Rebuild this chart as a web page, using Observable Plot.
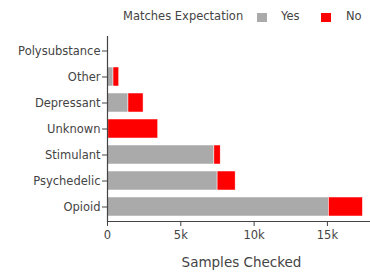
<!DOCTYPE html>
<html>
<head>
<meta charset="utf-8">
<script src="https://cdn.jsdelivr.net/npm/d3@7"></script>
<script src="https://cdn.jsdelivr.net/npm/@observablehq/plot@0.6"></script>
<style>
  body { margin: 0; background: #fff; }
  #wrap { position: relative; width: 370px; height: 272px; font-family: "DejaVu Sans", Verdana, sans-serif; color: #444; }
  #legend { position: absolute; top: 8px; left: 0; width: 370px; height: 18px; font-size: 11.5px; }
  #legend span { position: absolute; top: 0; line-height: 16px; white-space: nowrap; }
  #legend i { position: absolute; top: 5px; width: 10px; height: 9px; display: block; }
</style>
</head>
<body>
<div id="wrap">
  <div id="chart"></div>
  <div id="legend"></div>
</div>
<script>
const categories = ["Polysubstance", "Other", "Depressant", "Unknown", "Stimulant", "Psychedelic", "Opioid"];
const yesValues = [15, 410, 1430, 60, 7290, 7510, 15100];
const noValues = [5, 390, 1030, 3400, 430, 1230, 2320];
const groups = ["Yes", "No"];
const groupColors = ["#aaaaaa", "#ff0000"];
const xTicks = [0, 5000, 10000, 15000];
const xTickLabels = ["0", "5k", "10k", "15k"];
const legendTitle = "Matches Expectation";
const xTitle = "Samples Checked";

const rows = [];
categories.forEach((c, i) => {
  rows.push({category: c, match: "Yes", count: yesValues[i]});
  rows.push({category: c, match: "No", count: noValues[i]});
});

const chart = Plot.plot({
  width: 370,
  height: 272,
  marginTop: 36,
  marginBottom: 51,
  marginLeft: 107,
  marginRight: 1,
  style: {fontFamily: "'DejaVu Sans', Verdana, sans-serif", fontSize: "11.5px", color: "#444", background: "transparent"},
  x: {domain: [0, 17870]},
  y: {domain: categories, paddingInner: 0.26, paddingOuter: 0.13},
  color: {domain: groups, range: groupColors},
  marks: [
    Plot.barX(rows, Plot.stackX({x: "count", y: "category", fill: "match", stroke: "white", strokeWidth: 0.5})),
    Plot.ruleX([0], {stroke: "#444", strokeWidth: 1.2}),
    Plot.frame({anchor: "bottom", stroke: "#444", strokeWidth: 1.2}),
    Plot.axisY({tickSize: 5, tickPadding: 2, label: null, stroke: "#444", fill: "#444", fontSize: "11.5px"}),
    Plot.axisX(xTicks, {tickSize: 5, tickPadding: 4, tickFormat: (d, i) => xTickLabels[xTicks.indexOf(d)], label: xTitle, labelAnchor: "center", labelArrow: "none", labelOffset: 45, stroke: "#444", fill: "#444", fontSize: "11.5px"})
  ]
});
document.getElementById("chart").appendChild(chart);

// style the axis label larger and nudge it to match the reference
d3.select(chart).selectAll("text").filter(function() { return d3.select(this).text() === xTitle; })
  .style("font-size", "13.5px")
  .attr("dx", 3);

const legend = document.getElementById("legend");
const items = [
  {type: "span", text: legendTitle, left: 123},
  {type: "i", color: groupColors[0], left: 257},
  {type: "span", text: groups[0], left: 281},
  {type: "i", color: groupColors[1], left: 321},
  {type: "span", text: groups[1], left: 346}
];
items.forEach(it => {
  const el = document.createElement(it.type);
  el.style.left = it.left + "px";
  if (it.text) el.textContent = it.text;
  if (it.color) el.style.background = it.color;
  legend.appendChild(el);
});
</script>
</body>
</html>
